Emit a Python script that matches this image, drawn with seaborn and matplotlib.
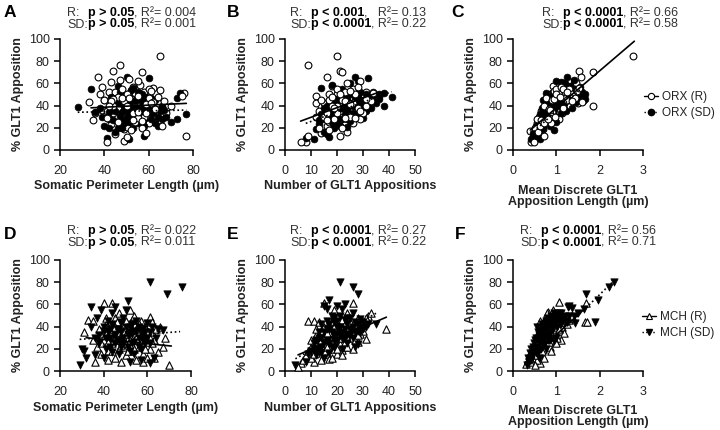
import matplotlib
matplotlib.use("Agg")
import matplotlib.pyplot as plt
import seaborn as sns
from matplotlib.lines import Line2D

# ---------------- data ----------------
# Panel A: ORX, % GLT1 apposition vs somatic perimeter length (um)
A_R_x = [65,47,44,57,37,51,43,55,56,39, 65,61,76,75,33,35,77,41,49,38, 36,40,42,44,45,46,47,48,48,49,
         50,50,51,52,52,53,53,54,54,55, 56,57,57,58,58,59,60,60,61,62, 63,64,66,67,68,70,45,47,43,50,
         39,41,62,59,46,55,52,44,49,66,
         41,43,45,46,47,48,49,50,50,51, 52,53,54,55,56,57,58,59,60,61, 62,63,64,42,44]
A_R_y = [85,77,71,70,66,64,61,62,59,57, 54,53,51,49,43,27,13,7,8,50, 33,45,52,40,30,48,22,55,35,44,
         28,50,38,18,46,33,57,25,42,49, 36,20,46,30,52,41,24,47,35,43, 28,48,38,44,33,40,14,63,23,12,
         36,29,56,15,38,29,53,46,19,22,
         35,44,52,25,42,47,31,40,21,47, 37,27,51,34,43,26,39,33,55,42, 31,37,42,40,33]
A_SD_x = [28,34,60,50,52,73,74,77,73,70, 41,51,58,45,67,68,38,40,42,43, 44,46,47,48,49,50,51,52,53,54,
          55,56,57,58,59,60,61,62,63,64, 66,42,46,49,53,55,57,61,64,39, 36,47,51,65,56,48,44,
          40,42,43,45,46,47,48,49,50,51, 52,53,54,55,56,57,58,59,60,62, 63,66,45,50,58]
A_SD_y = [39,55,65,66,54,47,51,32,28,25, 11,10,13,16,36,30,38,22,34,48, 27,42,31,20,50,37,25,44,20,32,
          52,26,40,22,48,34,28,38,45,30, 40,20,58,40,56,38,31,47,22,30, 34,52,33,35,45,27,38,
          45,28,38,35,20,46,34,24,45,40, 30,38,44,24,35,50,28,36,40,33, 24,28,44,30,44]
A_fit_R_x, A_fit_R_y = [34, 77], [38, 42]
A_fit_SD_x, A_fit_SD_y = [28, 77], [34, 36]

# Panel B: ORX, vs number of GLT1 appositions
B_R_x = [9,20,21,22,16,6,8,9,21,34, 36,29,12,12,18,24,26,28,14,15, 16,17,18,19,20,20,21,22,23,23,
         24,25,25,26,27,27,28,29,30,31, 32,33,35,13,14,17,19,22,24,30, 26,18,15,20,23,28,31,16,12,25,
         13,14,15,16,17,18,19,20,21,21, 22,23,24,25,26,27,28,29,30,31, 32,19,17,23,26]
B_R_y = [77,85,71,70,66,7,7,13,13,51, 49,62,49,42,58,60,55,57,40,30, 22,45,35,28,50,40,32,45,25,52,
         38,30,48,42,35,50,45,28,50,40, 47,44,45,20,15,18,23,20,16,33, 24,48,35,55,37,38,52,27,30,53,
         35,45,42,33,25,40,46,33,27,50, 35,44,33,41,36,29,50,35,42,46, 38,38,50,29,47]
B_SD_x = [11,8,32,27,18,14,41,38,38,36, 12,16,15,17,13,15,17,18,19,20, 21,22,23,24,25,26,27,28,29,30,
          31,32,33,34,35,22,25,28,19,21, 23,26,30,33,20,24,16,14,18,27, 29,31,36,24,17,
          13,15,16,17,18,19,20,21,22,23, 24,25,26,27,28,29,30,32,34,22, 20,18,25,28,31]
B_SD_y = [10,11,65,66,59,56,48,40,51,50, 19,14,16,12,23,28,35,25,42,30, 45,38,50,28,42,33,47,30,52,44,
          35,48,38,52,42,55,60,62,20,22, 32,50,29,47,37,45,40,32,45,40, 40,50,46,21,29,
          27,38,32,44,30,35,46,38,28,42, 36,50,40,32,48,45,36,42,45,47, 24,38,26,41,44]
B_fit_R_x, B_fit_R_y = [6, 36], [26, 52]
B_fit_SD_x, B_fit_SD_y = [8, 41], [24, 52.5]

# Panel C: ORX, vs mean discrete GLT1 apposition length (um)
C_R_x = [2.78,1.84,1.53,1.57,1.84,1.6,0.42,0.49,0.40,0.72, 0.45,0.5,0.55,0.58,0.6,0.62,0.65,0.68,0.7,0.72,
         0.75,0.78,0.8,0.82,0.85,0.85,0.88,0.9,0.92,0.95, 0.95,0.98,1.0,1.0,1.02,1.05,1.08,1.1,1.12,1.15,
         1.18,1.2,1.22,1.25,1.28,1.3,1.32,1.35,1.38,1.42, 1.45,1.48,1.5,1.52,0.65,0.88,1.05,0.75,0.92,1.15,
         0.5,0.55,0.6,0.65,0.7,0.72,0.78,0.8,0.82,0.85, 0.88,0.9,0.92,0.95,0.98,1.0,1.05,1.08,1.1,1.15,
         1.2,1.25,1.3,1.35,1.4]
C_R_y = [85,70,71,66,40,43,7,7,17,13, 12,20,24,16,30,22,35,27,19,40, 32,25,45,37,50,29,42,34,48,53,
         40,30,45,55,37,50,42,57,33,48, 60,52,38,45,62,55,40,50,58,47, 60,53,42,56,18,24,28,47,58,38,
         14,28,21,27,33,24,38,28,42,36, 31,45,38,46,36,50,35,48,44,55, 45,52,48,44,55]
C_SD_x = [1.25,1.11,0.76,1.65,1.66,1.45,0.63,0.42,0.45,0.5, 0.52,0.55,0.58,0.6,0.62,0.65,0.68,0.7,0.72,0.75,
          0.78,0.8,0.82,0.85,0.88,0.9,0.92,0.95,0.98,1.0, 1.02,1.05,1.08,1.1,1.12,1.15,1.18,1.2,1.22,1.25,
          1.3,1.32,1.35,1.4,1.45,1.5,1.55,1.6,1.62,0.95, 0.78,1.0,1.4,0.7,
          0.48,0.52,0.58,0.62,0.66,0.7,0.74,0.78,0.8,0.84, 0.88,0.9,0.93,0.97,1.0,1.05,1.08,1.12,1.16,1.2,
          1.25,1.3,1.38,1.45,1.55]
C_SD_y = [66,61,51,50,46,43,10,10,15,13, 22,18,27,12,32,24,38,20,30,42, 26,35,48,22,40,30,52,36,45,25,
          50,40,56,33,46,60,42,55,35,50, 45,58,38,52,55,48,57,52,44,18, 49,62,63,45,
          10,17,22,18,29,36,28,33,42,37, 46,35,42,50,43,53,45,52,48,60, 56,52,48,50,50]
C_fit_R_x, C_fit_R_y = [0.4, 2.8], [18, 98]
C_fit_SD_x, C_fit_SD_y = [0.4, 1.65], [14, 58]

# Panel D: MCH, vs somatic perimeter length (um)
D_R_x = [40,44,70,61,68,65,63,36,33,31, 35,37,38,39,40,41,42,43,44,45, 45,46,47,48,49,50,50,51,52,53,
         54,55,55,56,57,58,59,60,61,62, 63,64,66,67,58,48,42,47,52,54, 49,44,57,60,46,51,39,35,62,41,
         39,41,42,43,44,45,46,47,48,49, 50,51,52,53,54,55,56,57,58,59, 60,61,62,50,45]
D_R_y = [61,61,5,49,30,17,12,8,46,35, 45,22,38,15,28,42,18,33,25,48, 12,36,20,30,42,14,25,35,18,46,
         28,10,38,22,32,15,40,26,20,35, 28,38,40,22,8,8,10,52,55,50, 22,38,45,12,28,30,32,28,44,48,
         25,34,26,40,18,30,44,33,23,36, 45,18,28,38,20,30,42,25,34,20, 36,30,25,33,40]
D_SD_x = [61,76,69,51,34,29,30,31,32,61, 34,36,37,38,39,40,41,42,43,44, 45,46,47,48,49,50,51,52,53,54,
          55,56,57,58,59,60,61,62,63,65, 67,40,44,52,57,49,53,56,47,45, 43,58,54,64,36,
          38,40,41,42,43,44,45,46,47,48, 49,50,51,52,53,54,55,56,57,58, 59,60,61,48,52]
D_SD_y = [80,76,69,63,58,5,20,18,12,7, 40,30,48,25,55,36,20,45,30,52, 25,38,15,44,30,55,22,40,33,15,
          45,30,20,38,25,43,35,40,12,38, 37,12,17,8,10,48,25,40,28,58, 38,33,36,30,14,
          32,40,30,35,22,42,32,28,38,35, 25,40,32,35,42,26,35,22,38,28, 35,30,25,22,18]
D_fit_R_x, D_fit_R_y = [32, 71], [30, 22.5]
D_fit_SD_x, D_fit_SD_y = [29, 75], [28.5, 35.5]

# Panel E: MCH, vs number of GLT1 appositions
E_R_x = [39,31,30,32,31,9,11,26,15,6, 11,22,5,7,8,9,10,10,11,12, 12,13,14,14,15,16,16,17,18,18,
         19,20,20,21,22,22,23,24,24,25, 26,26,27,28,28,29,30,33,13,17, 20,19,23,27,12,18,15,25,21,29,
         10,11,12,13,14,15,15,16,17,18, 19,20,20,21,22,23,24,25,26,27, 28,16,22,18,24]
E_R_y = [38,29,36,50,48,45,45,61,61,7, 8,19,4,10,14,18,22,12,27,16, 32,20,36,10,25,40,15,30,45,20,
         35,26,50,40,30,46,22,38,52,30, 42,20,34,48,26,40,44,52,44,11, 15,55,42,28,25,30,32,36,24,33,
         28,15,38,25,28,18,40,22,35,26, 40,20,34,30,38,26,30,44,35,40, 32,34,14,12,22]
E_SD_x = [21,26,28,17,15,16,20,35,4,8, 9,10,11,12,12,13,14,14,15,16, 16,17,18,18,19,19,20,20,21,22,
          22,23,24,24,25,25,26,27,28,28, 29,30,32,22,13,17,26,23,27,21, 19,15,24,29,31,
          11,12,13,14,15,16,17,17,18,19, 20,20,21,22,23,24,25,26,27,28, 30,14,19,23,29]
E_SD_y = [80,76,69,64,59,56,59,42,5,8, 15,18,25,14,20,30,22,42,35,28, 45,38,22,50,32,44,27,40,50,35,
          56,30,42,25,48,38,30,44,36,24, 40,38,42,20,18,16,52,60,22,34, 48,12,33,47,40,
          20,28,35,30,25,38,24,42,35,28, 45,33,40,30,38,48,32,40,35,42, 44,16,22,46,34]
E_fit_R_x, E_fit_R_y = [5, 39], [14.5, 48.5]
E_fit_SD_x, E_fit_SD_y = [4, 35], [11, 52]

# Panel F: MCH, vs mean discrete GLT1 apposition length (um)
F_R_x = [1.07,1.65,1.71,1.68,0.8,0.63,1.11,0.3,0.35,0.38, 0.4,0.42,0.45,0.48,0.5,0.52,0.55,0.55,0.58,0.6,
         0.62,0.65,0.65,0.68,0.7,0.7,0.72,0.75,0.75,0.78, 0.8,0.82,0.85,0.85,0.88,0.9,0.92,0.95,0.95,0.98,
         1.0,1.02,1.05,1.08,1.1,1.12,1.15,1.2,1.25,1.3, 0.6,0.5,0.72,0.88,1.0,1.18,0.78,0.92,0.62,1.35,
         0.4,0.45,0.5,0.52,0.55,0.58,0.6,0.62,0.65,0.68, 0.7,0.72,0.75,0.78,0.8,0.82,0.85,0.88,0.9,0.95,
         1.0,1.05,1.1,0.68,0.92]
F_R_y = [62,44,44,61,53,7,28,6,10,14, 8,18,12,22,16,27,10,32,20,36, 25,14,40,30,44,20,35,48,26,40,
         30,45,22,50,36,42,28,46,34,52, 38,30,44,36,50,40,45,48,42,46, 15,5,12,18,25,34,52,55,45,50,
         12,20,24,14,26,30,22,34,28,38, 28,42,32,45,38,26,40,46,32,40, 45,38,44,18,50]
F_SD_x = [2.32,2.22,1.68,1.95,1.3,1.36,1.26,1.63,1.9,1.43, 0.32,0.35,0.38,0.4,0.42,0.45,0.48,0.5,0.52,0.55,
          0.58,0.6,0.62,0.65,0.68,0.7,0.72,0.75,0.78,0.8, 0.82,0.85,0.88,0.9,0.92,0.95,0.98,1.0,1.02,1.05,
          1.1,1.15,1.2,1.25,1.4,1.5,0.6,0.72,0.65,0.85, 1.0,0.55,0.95,1.1,0.8,
          0.42,0.45,0.5,0.55,0.58,0.6,0.62,0.65,0.68,0.7, 0.72,0.75,0.78,0.8,0.82,0.85,0.88,0.9,0.95,1.0,
          1.05,1.1,1.2,1.3,0.75]
F_SD_y = [80,76,69,64,59,57,58,56,44,43, 5,12,8,16,20,14,25,18,30,22, 35,26,40,30,42,34,24,45,38,48,
          30,42,50,38,46,52,44,50,40,48, 52,46,50,44,50,52,12,36,20,34, 30,40,27,42,28,
          10,22,28,16,28,32,20,36,26,40, 30,36,44,34,46,28,42,48,40,44, 52,46,45,50,20]
F_fit_R_x, F_fit_R_y = [0.3, 1.71], [8, 58]
F_fit_SD_x, F_fit_SD_y = [0.32, 2.32], [5, 81]

y_ticks = [0, 20, 40, 60, 80, 100]
perim_ticks = [20, 40, 60, 80]
number_ticks = [0, 10, 20, 30, 40, 50]
length_ticks = [0, 1, 2, 3]
y_label = "% GLT1 Apposition"
perim_label = "Somatic Perimeter Length (µm)"
number_label = "Number of GLT1 Appositions"
length_label = "Mean Discrete GLT1\nApposition Length (µm)"

stats = {
    "A": [("R:", "p > 0.05", ", R²= 0.004"), ("SD:", "p > 0.05", ", R²= 0.001")],
    "B": [("R:", "p < 0.001", ",   R²= 0.13"), ("SD:", "p < 0.0001", ", R²= 0.22")],
    "C": [("R:", "p < 0.0001", ", R²= 0.66"), ("SD:", "p < 0.0001", ", R²= 0.58")],
    "D": [("R:", "p > 0.05", ", R²= 0.022"), ("SD:", "p > 0.05", ", R²= 0.011")],
    "E": [("R:", "p < 0.0001", ", R²= 0.27"), ("SD:", "p < 0.0001", ", R²= 0.22")],
    "F": [("R:", "p < 0.0001", ", R²= 0.56"), ("SD:", "p < 0.0001", ", R²= 0.71")],
}

# ---------------- style ----------------
sns.set_theme(style="ticks")
plt.rcParams.update({
    "font.family": ["Liberation Sans", "DejaVu Sans"],
    "font.size": 9,
    "axes.linewidth": 1.1,
    "xtick.major.width": 1.1, "ytick.major.width": 1.1,
    "xtick.major.size": 4.5, "ytick.major.size": 4.5,
    "xtick.major.pad": 6.5, "ytick.major.pad": 3,
    "xtick.labelsize": 9, "ytick.labelsize": 9,
    "xtick.color": "black", "ytick.color": "black",
    "xtick.labelcolor": "#222222", "ytick.labelcolor": "#222222",
    "axes.edgecolor": "black",
})

W, H = 720, 430
fig = plt.figure(figsize=(W / 100, H / 100), dpi=100)
renderer = fig.canvas.get_renderer()
GRAY = "#333333"


def make_ax(l, t, r, b):
    return fig.add_axes([l / W, 1 - b / H, (r - l) / W, (b - t) / H])


def stat_lines(x0, yb1, yb2, lines, fs=9):
    sd_lab = fig.text(x0 / W, 1 - yb2 / H, lines[1][0], fontsize=fs, color=GRAY, va="baseline")
    xb = sd_lab.get_window_extent(renderer).x1
    for (lab, bold, rest), yb in zip(lines, (yb1, yb2)):
        if lab != lines[1][0]:
            fig.text(x0 / W, 1 - yb / H, lab, fontsize=fs, color=GRAY, va="baseline")
        tb = fig.text(xb / W, 1 - yb / H, bold, fontsize=fs, weight="bold", color="black", va="baseline")
        x1 = tb.get_window_extent(renderer).x1
        fig.text(x1 / W, 1 - yb / H, rest, fontsize=fs, color=GRAY, va="baseline")


panels = [
    dict(key="A", box=(60, 39, 193, 150), xlim=(20, 80), xt=perim_ticks, xl=perim_label, lp=2,
         R=(A_R_x, A_R_y), SD=(A_SD_x, A_SD_y), fR=(A_fit_R_x, A_fit_R_y), fSD=(A_fit_SD_x, A_fit_SD_y),
         mk=("o", "o"), mix=True, tx=67, ty=(16, 27.5), let=(4, 17)),
    dict(key="B", box=(285, 39, 415, 150), xlim=(0, 50), xt=number_ticks, xl=number_label, lp=2,
         R=(B_R_x, B_R_y), SD=(B_SD_x, B_SD_y), fR=(B_fit_R_x, B_fit_R_y), fSD=(B_fit_SD_x, B_fit_SD_y),
         mk=("o", "o"), mix=True, tx=290, ty=(16, 27.5), let=(227, 17)),
    dict(key="C", box=(513, 39, 643, 150), xlim=(0, 3), xt=length_ticks, xl=length_label, lp=5.5,
         R=(C_R_x, C_R_y), SD=(C_SD_x, C_SD_y), fR=(C_fit_R_x, C_fit_R_y), fSD=(C_fit_SD_x, C_fit_SD_y),
         mk=("o", "o"), mix=True, tx=542, ty=(16, 27.5), let=(451, 17)),
    dict(key="D", box=(60, 260, 191, 371), xlim=(20, 80), xt=perim_ticks, xl=perim_label, lp=3,
         R=(D_R_x, D_R_y), SD=(D_SD_x, D_SD_y), fR=(D_fit_R_x, D_fit_R_y), fSD=(D_fit_SD_x, D_fit_SD_y),
         mk=("^", "v"), mix=False, tx=67, ty=(234.5, 246), let=(4, 239)),
    dict(key="E", box=(285, 260, 415, 371), xlim=(0, 50), xt=number_ticks, xl=number_label, lp=3,
         R=(E_R_x, E_R_y), SD=(E_SD_x, E_SD_y), fR=(E_fit_R_x, E_fit_R_y), fSD=(E_fit_SD_x, E_fit_SD_y),
         mk=("^", "v"), mix=False, tx=290, ty=(234.5, 246), let=(227, 239)),
    dict(key="F", box=(513, 260, 643, 371), xlim=(0, 3), xt=length_ticks, xl=length_label, lp=4.5,
         R=(F_R_x, F_R_y), SD=(F_SD_x, F_SD_y), fR=(F_fit_R_x, F_fit_R_y), fSD=(F_fit_SD_x, F_fit_SD_y),
         mk=("^", "v"), mix=False, tx=520, ty=(234.5, 246), let=(455, 239)),
]

DOT = (0, (1, 1.6))


def draw_open(ax, xs, ys, mk, sz):
    sns.scatterplot(x=xs, y=ys, ax=ax, marker=mk, s=sz, color="white", edgecolor="black",
                    linewidth=0.8, zorder=3, clip_on=False, legend=False)


def draw_filled(ax, xs, ys, mk, sz):
    sns.scatterplot(x=xs, y=ys, ax=ax, marker=mk, s=sz, color="black", edgecolor="black",
                    linewidth=0.5, zorder=3, clip_on=False, legend=False)


for p in panels:
    ax = make_ax(*p["box"])
    mR, mSD = p["mk"]
    sz = 24 if mR == "o" else 28
    rx, ry = p["R"]
    if p["mix"]:
        # open and filled markers interleave in the reference
        draw_open(ax, rx[0::2], ry[0::2], mR, sz)
        draw_filled(ax, p["SD"][0], p["SD"][1], mSD, sz)
        draw_open(ax, rx[1::2], ry[1::2], mR, sz)
    else:
        draw_open(ax, rx, ry, mR, sz)
        draw_filled(ax, p["SD"][0], p["SD"][1], mSD, sz)
    sns.lineplot(x=p["fR"][0], y=p["fR"][1], ax=ax, color="black", linewidth=1.2,
                 linestyle="-", zorder=4, legend=False)
    sns.lineplot(x=p["fSD"][0], y=p["fSD"][1], ax=ax, color="black", linewidth=1.2,
                 linestyle=DOT, zorder=4, legend=False)
    ax.set_xlim(*p["xlim"])
    ax.set_ylim(0, 100)
    ax.set_xticks(p["xt"])
    ax.set_yticks(y_ticks)
    ax.set_xlabel(p["xl"], fontweight="bold", fontsize=9, labelpad=p["lp"], linespacing=0.95, color="#222222")
    ax.set_ylabel(y_label, fontweight="bold", fontsize=9, labelpad=3, color="#222222")
    sns.despine(ax=ax)
    stat_lines(p["tx"], p["ty"][0], p["ty"][1], stats[p["key"]])
    fig.text(p["let"][0] / W, 1 - p["let"][1] / H, p["key"], fontsize=12.5, weight="bold",
             color="black", va="baseline")

# legends
orx_handles = [
    Line2D([0], [0], color="black", lw=1, ls="-", marker="o", mfc="white", mec="black", ms=4.5, mew=0.8),
    Line2D([0], [0], color="black", lw=1, ls=DOT, marker="o", mfc="black", mec="black", ms=4.5),
]
fig.legend(orx_handles, ["ORX (R)", "ORX (SD)"], loc="center left", bbox_to_anchor=(644 / W, 1 - 105 / H),
           frameon=False, fontsize=8.5, handlelength=1.2, handletextpad=0.3, labelspacing=0.4,
           borderpad=0, borderaxespad=0, labelcolor="#222222")
mch_handles = [
    Line2D([0], [0], color="black", lw=1, ls="-", marker="^", mfc="white", mec="black", ms=5, mew=0.8),
    Line2D([0], [0], color="black", lw=1, ls=DOT, marker="v", mfc="black", mec="black", ms=5),
]
fig.legend(mch_handles, ["MCH (R)", "MCH (SD)"], loc="center left", bbox_to_anchor=(642 / W, 1 - 325 / H),
           frameon=False, fontsize=8.5, handlelength=1.2, handletextpad=0.3, labelspacing=0.4,
           borderpad=0, borderaxespad=0, labelcolor="#222222")

fig.savefig("out.png", dpi=100)
